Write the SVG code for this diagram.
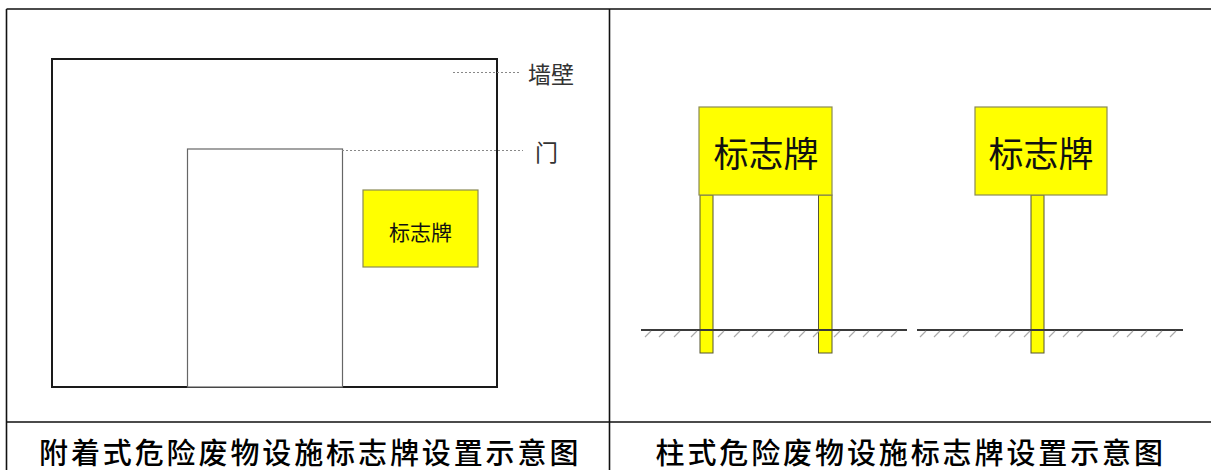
<svg xmlns="http://www.w3.org/2000/svg" width="1211" height="470" viewBox="0 0 1211 470">
<style>
.tbl{stroke:#111;stroke-width:1.6;fill:none}
.wall{stroke:#1a1a1a;stroke-width:2;fill:none}
.door{stroke:#666;stroke-width:1.2;fill:#fff}
.dot{stroke:#888;stroke-width:1.2;stroke-dasharray:2 2;fill:none}
.sign{fill:#ffff00;stroke:#8a8a55;stroke-width:1.2}
.post{fill:#ffff00;stroke:#555533;stroke-width:1}
.ground{stroke:#3a3a3a;stroke-width:2;fill:none}
.hatch{stroke:#aaa;stroke-width:1.2;fill:none}
.cjk{font-family:"Noto Sans CJK SC","Noto Sans CJK TC",sans-serif}
.lbl{fill:#333;font-size:23px}
.signtxt{fill:#111}
.cap{fill:#000;font-size:29px;letter-spacing:2.9px;font-weight:500}
</style>
<rect width="1211" height="470" fill="#fff"/>
<g id="table">
<path class="tbl" d="M6.5 9H1211M6.5 9V470M609.5 9V470M6.5 422H1211"/>
</g>
<g id="wall">
<rect class="wall" x="52" y="59" width="445" height="328"/>
</g>
<g id="door">
<rect class="door" x="187.5" y="149" width="155" height="238"/>
</g>
<g id="wall-sign">
<rect class="sign" x="363" y="190" width="115" height="77"/>
<text class="cjk signtxt" x="420.5" y="240" font-size="21" text-anchor="middle">标志牌</text>
</g>
<g id="connectors">
<path class="dot" d="M453 72.5H520"/>
<path class="dot" d="M342 150.5H523"/>
</g>
<g id="label-wall">
<text class="cjk lbl" x="528" y="83">墙壁</text>
</g>
<g id="label-door">
<text class="cjk lbl" x="535" y="161">门</text>
</g>
<g id="post-sign-double">
<rect class="post" x="700" y="195" width="13" height="158"/>
<rect class="post" x="818.5" y="195" width="13.5" height="158"/>
<rect class="sign" x="699" y="107" width="133" height="88"/>
<text class="cjk signtxt" x="766" y="167" font-size="35" text-anchor="middle">标志牌</text>
</g>
<g id="post-sign-single">
<rect class="post" x="1031" y="195" width="13" height="158"/>
<rect class="sign" x="975" y="107" width="132" height="88"/>
<text class="cjk signtxt" x="1041" y="167" font-size="35" text-anchor="middle">标志牌</text>
</g>
<g id="ground">
<path class="ground" d="M641 330H907M917 330H1183"/>
<path class="hatch" d="M645 337l6-6M659 337l6-6M674 337l6-6M691 337l6-6M718 337l6-6M734 337l6-6M752 337l6-6M768 337l6-6M784 337l6-6M799 337l6-6M813 337l6-6M834 337l6-6M849 337l6-6M863 337l6-6M877 337l6-6M891 337l6-6M920 337l6-6M934 337l6-6M949 337l6-6M963 337l6-6M995 337l6-6M1009 337l6-6M1024 337l6-6M1049 337l6-6M1063 337l6-6M1077 337l6-6M1113 337l6-6M1127 337l6-6M1141 337l6-6M1156 337l6-6M1170 337l6-6"/>
</g>
<g id="captions">
<text class="cjk cap" x="39" y="464">附着式危险废物设施标志牌设置示意图</text>
<text class="cjk cap" x="655.5" y="464">柱式危险废物设施标志牌设置示意图</text>
</g>
</svg>
